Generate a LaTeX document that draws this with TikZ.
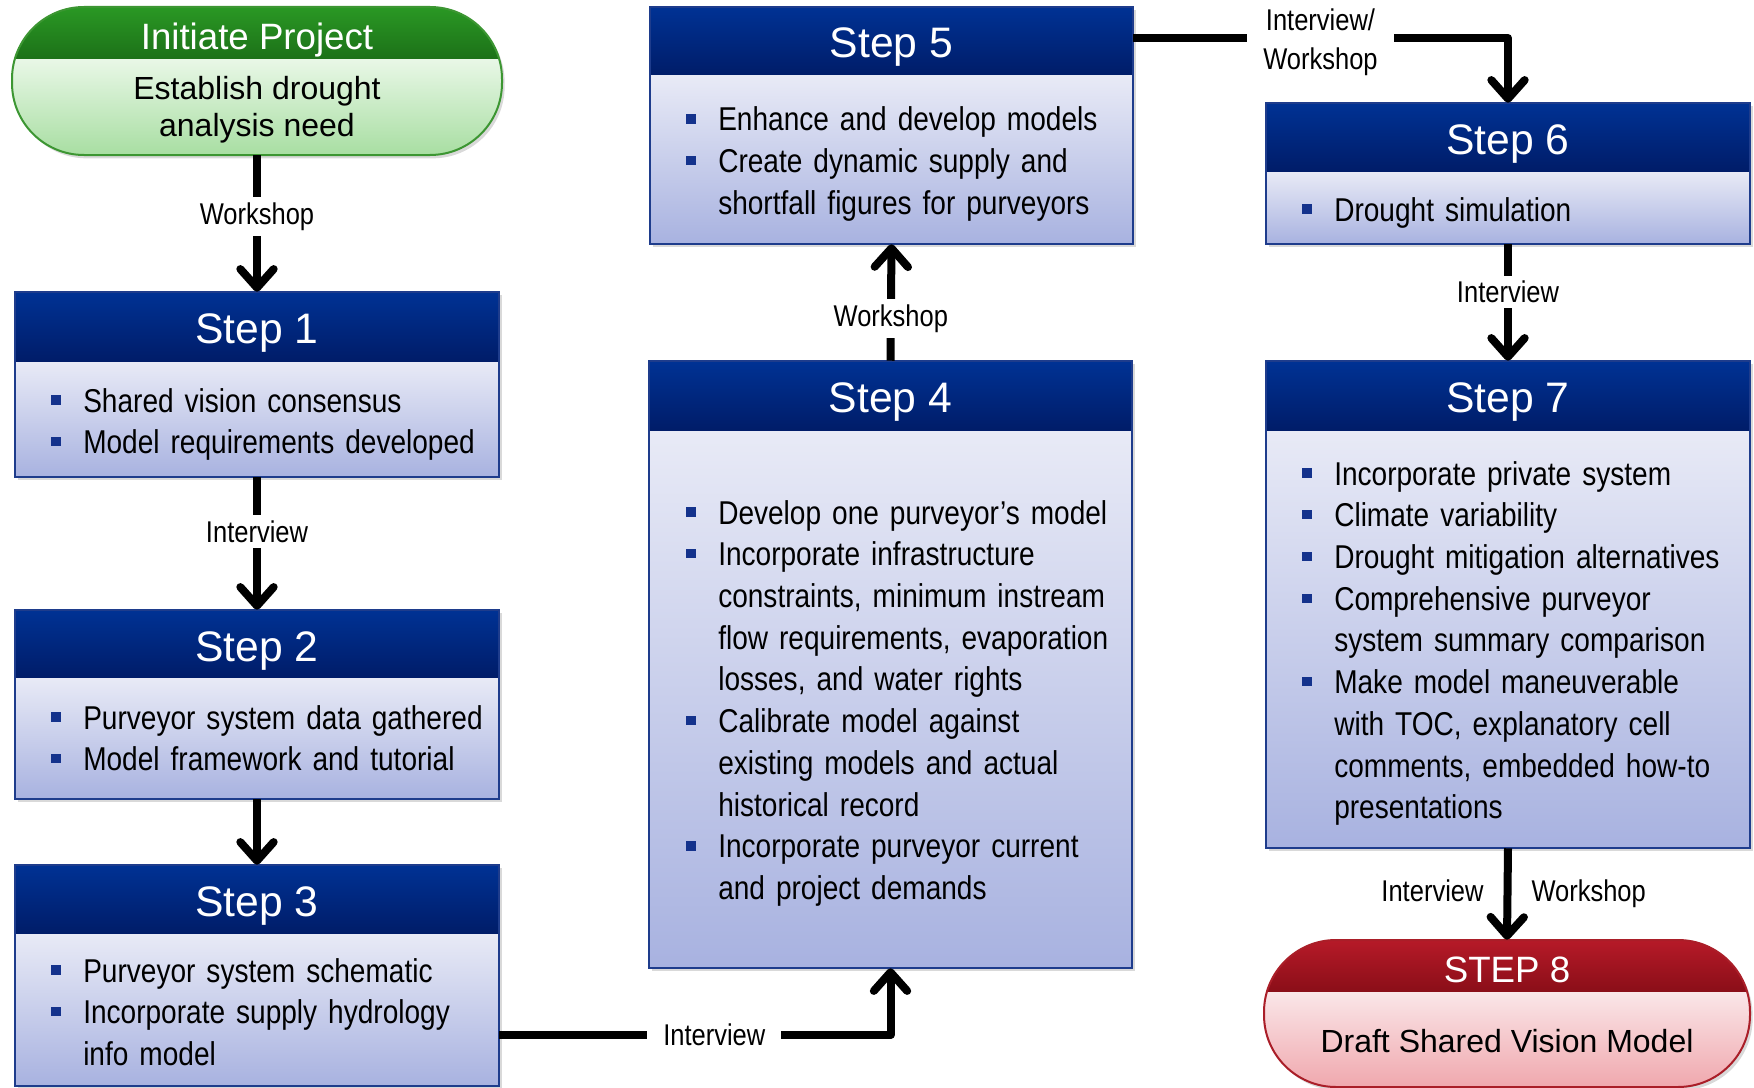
\documentclass[tikz,border=0pt]{standalone}
\usepackage{fontspec}
\setmainfont{Liberation Sans}
\newfontfamily\narrowfont[FakeStretch=0.85]{Liberation Sans}
\usetikzlibrary{arrows.meta,shadows,fit,calc}
\definecolor{hdtop}{RGB}{0,50,148}
\definecolor{hdbot}{RGB}{0,28,104}
\definecolor{bdtop}{RGB}{232,234,246}
\definecolor{bdbot}{RGB}{168,178,224}
\definecolor{bdr}{RGB}{30,60,140}
\definecolor{bulc}{RGB}{20,50,140}
\definecolor{ght}{RGB}{42,152,36}
\definecolor{ghb}{RGB}{28,112,24}
\definecolor{gbt}{RGB}{232,247,230}
\definecolor{gbb}{RGB}{168,222,162}
\definecolor{gbd}{RGB}{60,150,50}
\definecolor{rht}{RGB}{182,26,40}
\definecolor{rhb}{RGB}{138,14,24}
\definecolor{rbt}{RGB}{250,230,232}
\definecolor{rbb}{RGB}{240,168,174}
\definecolor{rbd}{RGB}{170,30,40}
\newcommand\bul{\makebox[24pt][l]{\textcolor{bulc}{\rule[5.5pt]{7pt}{7pt}}}}
\newcommand\bitem[1]{\hangindent=24pt\hangafter=1\noindent\bul#1\par}
\tikzset{
  shd/.style={drop shadow={shadow xshift=2pt,shadow yshift=-2.5pt,opacity=0.3}},
  hdtext/.style={text=white,font=\fontsize{32}{38}\selectfont,inner sep=0pt,anchor=base},
  blist/.style={anchor=base west,inner sep=0pt,text width=460pt,align=left,
    font=\narrowfont\fontsize{24.75}{31.3}\selectfont},
  lab/.style={font=\narrowfont\fontsize{22.5}{29}\selectfont,fill=white,
    inner xsep=12pt,inner ysep=4pt,align=center},
  sidelab/.style={font=\narrowfont\fontsize{22.5}{29}\selectfont,inner xsep=15pt,
    text height=16pt,text depth=5pt},
  conn/.style={line width=6pt,line join=round,
    -{Straight Barb[length=14pt,width=25pt,line cap=round,line join=round]}}
}
% name x1 y1 x2 yh y2 title
\newcommand\stepbox[7]{%
  \fill[white,shd] (#2,#3) rectangle (#4,#6);
  \shade[top color=hdtop,bottom color=hdbot] (#2,#3) rectangle (#4,#5);
  \shade[top color=bdtop,bottom color=bdbot] (#2,#5) rectangle (#4,#6);
  \draw[bdr,line width=1.5pt] (#2,#3) rectangle (#4,#6);
  \node[fit={(#2,#3)(#4,#6)},inner sep=0pt] (#1) {};
  \node[hdtext] (#1h) at ({(#2+#4)/2},{#3+51}) {#7};
}
% name x1 y1 x2 yh y2 colourprefix title-baseline title
\newcommand\pill[9]{%
  \fill[white,shd,rounded corners=54pt] (#2,#3) rectangle (#4,#6);
  \begin{scope}
    \clip[rounded corners=54pt] (#2,#3) rectangle (#4,#6);
    \shade[top color=#7ht,bottom color=#7hb] (#2,#3) rectangle (#4,#5);
    \shade[top color=#7bt,bottom color=#7bb] (#2,#5) rectangle (#4,#6);
  \end{scope}
  \draw[#7bd,line width=1.5pt,rounded corners=54pt] (#2,#3) rectangle (#4,#6);
  \node[fit={(#2,#3)(#4,#6)},inner sep=0pt] (#1) {};
  \node[text=white,font=\fontsize{27.5}{33}\selectfont,inner sep=0pt,anchor=base] (#1h)
    at ({(#2+#4)/2},#8) {#9};
}
\tikzset{pilltext/.style={font=\fontsize{24}{28.5}\selectfont,inner sep=0pt,anchor=base}}
\begin{document}
\begin{tikzpicture}[x=0.75pt,y=-0.75pt]
\useasboundingbox (0,0) rectangle (1754,1088);

\pill{init}{12}{7}{502}{60}{155}{g}{50}{Initiate Project}
\node[pilltext] (initb1) at (257,100) {Establish drought};
\node[pilltext] (initb2) at (257,137) {analysis need};
\stepbox{s1}{15}{292}{499}{362}{477}{Step 1}
\stepbox{s2}{15}{610}{499}{678}{799}{Step 2}
\stepbox{s3}{15}{865}{499}{934}{1086}{Step 3}
\stepbox{s4}{649}{361}{1132}{431}{968}{Step 4}
\stepbox{s5}{650}{7}{1133}{76}{244}{Step 5}
\stepbox{s6}{1266}{103}{1750}{172}{244}{Step 6}
\stepbox{s7}{1266}{361}{1750}{431}{848}{Step 7}
\pill{s8}{1264}{940}{1750}{992}{1087}{r}{982}{STEP 8}
\node[pilltext] (s8b) at (1507,1052) {Draft Shared Vision Model};

\node[blist] (t1) at (51,412) {\bitem{Shared vision consensus}\bitem{Model requirements developed}};
\node[blist] (t2) at (51,729) {\bitem{Purveyor system data gathered}\bitem{Model framework and tutorial}};
\node[blist] (t3) at (51,982) {\bitem{Purveyor system schematic}\bitem{Incorporate supply hydrology\newline info model}};
\node[blist] (t4) at (686,524) {\bitem{Develop one purveyor’s model}%
  \bitem{Incorporate infrastructure\newline constraints, minimum instream\newline flow requirements, evaporation\newline losses, and water rights}%
  \bitem{Calibrate model against\newline existing models and actual\newline historical record}%
  \bitem{Incorporate purveyor current\newline and project demands}};
\node[blist] (t5) at (686,131) {\bitem{Enhance and develop models}\bitem{Create dynamic supply and\newline shortfall figures for purveyors}};
\node[blist] (t6) at (1302,221) {\bitem{Drought simulation}};
\node[blist] (t7) at (1302,485) {\bitem{Incorporate private system}\bitem{Climate variability}%
  \bitem{Drought mitigation alternatives}%
  \bitem{Comprehensive purveyor\newline system summary comparison}%
  \bitem{Make model maneuverable\newline with TOC, explanatory cell\newline comments, embedded how-to\newline presentations}};

\coordinate (a34) at (499,1035);
\coordinate (a56) at (1133,38);

\draw[conn] (init.south -| s1.north) -- node[lab,pos=0.45] (l01) {Workshop} (s1.north);
\draw[conn] (s1.south) -- node[lab,pos=0.41] (l12) {Interview} (s2.north);
\draw[conn] (s2.south) -- (s3.north);
\draw[conn] (a34) -| node[lab,pos=0.275] (l34) {Interview} (s4.south);
\draw[conn] (s4.north) -- node[lab,pos=0.36] (l45) {Workshop} (s5.south);
\draw[conn] (a56) -| node[lab,pos=0.25,yshift=-3pt] (l56) {Interview/\\Workshop} (s6.north);
\draw[conn] (s6.south) -- node[lab,pos=0.41] (l67) {Interview} (s7.north);
\draw[conn] (s7.south) -- node[sidelab,pos=0.5,left] (l78a) {Interview}
  node[sidelab,pos=0.5,right] (l78b) {Workshop} (s8.north);
\end{tikzpicture}
\end{document}
